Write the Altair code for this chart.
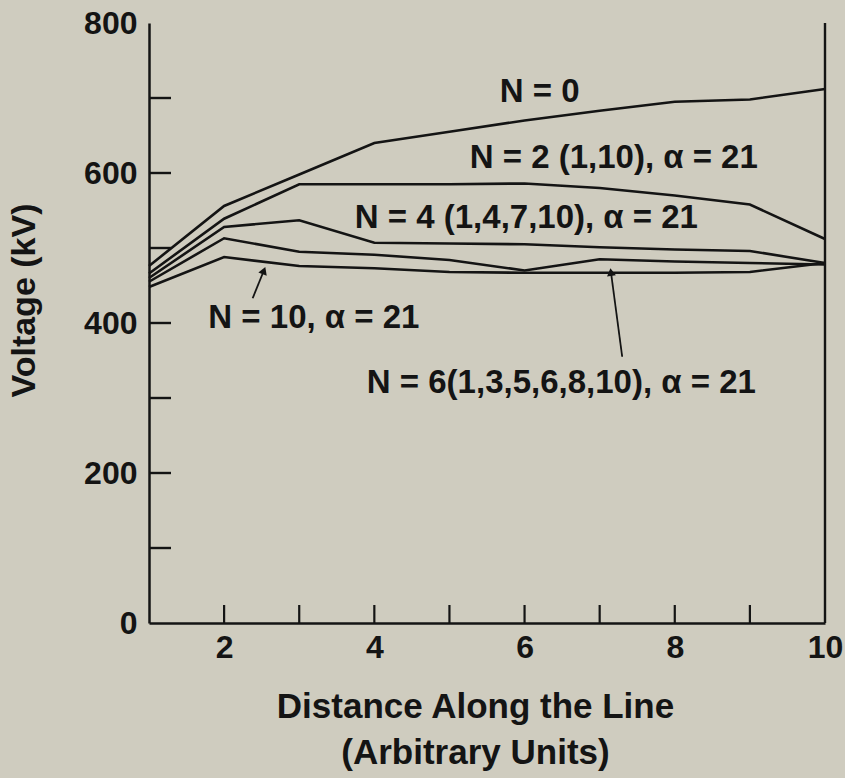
import altair as alt
import pandas as pd

# Voltage profile along the line for different numbers of arresters N
distance = [1, 2, 3, 4, 5, 6, 7, 8, 9, 10]
v_n0 = [476, 556, 598, 640, 655, 670, 683, 695, 698, 712]
v_n2 = [466, 539, 585, 585, 585, 586, 580, 570, 558, 512]
v_n4 = [460, 528, 537, 507, 506, 505, 501, 498, 496, 480]
v_n6 = [455, 513, 495, 491, 484, 470, 485, 482, 480, 478]
v_n10 = [448, 488, 476, 473, 468, 467, 467, 467, 468, 480]

series_names = ["N0", "N2", "N4", "N6", "N10"]
series_values = [v_n0, v_n2, v_n4, v_n6, v_n10]

# curve labels: text, x, y
label_texts = [
    "N = 0",
    "N = 2 (1,10), α = 21",
    "N = 4 (1,4,7,10), α = 21",
    "N = 10, α = 21",
    "N = 6(1,3,5,6,8,10), α = 21",
]
label_x = [5.67, 5.27, 3.74, 1.79, 3.90]
label_y = [695, 607, 527, 393, 307]

# pointer arrows: tail (x, y) -> head (x, y), head angle in degrees
arrow_tail_x = [2.38, 7.30]
arrow_tail_y = [433, 355]
arrow_head_x = [2.53, 7.15]
arrow_head_y = [470, 468]
arrow_angle = [21, 352]

y_ticks = [100, 200, 300, 400, 500, 600, 700]
x_ticks = [2, 3, 4, 5, 6, 7, 8, 9]
y_labels = [0, 200, 400, 600, 800]
x_labels = [2, 4, 6, 8, 10]

FONT = "Liberation Sans"
INK = "#141414"
BG = "#cfccbf"

rows = []
for name, vals in zip(series_names, series_values):
    for d, v in zip(distance, vals):
        rows.append({"series": name, "distance": d, "voltage": v})
lines_df = pd.DataFrame(rows)

x_scale = alt.Scale(domain=[1, 10], nice=False, zero=False)
y_scale = alt.Scale(domain=[0, 800], nice=False)

lines = alt.Chart(lines_df).mark_line(color=INK, strokeWidth=2.6).encode(
    x=alt.X(
        "distance:Q",
        scale=x_scale,
        axis=alt.Axis(
            values=x_labels,
            format="d",
            ticks=False,
            grid=False,
            domainColor=INK,
            domainWidth=2.5,
            labelFont=FONT,
            labelFontWeight="bold",
            labelFontSize=32,
            labelColor=INK,
            labelPadding=9,
            labelFlush=False,
            title=["Distance Along the Line", "(Arbitrary Units)"],
            titleFont=FONT,
            titleFontWeight="bold",
            titleFontSize=35,
            titleColor=INK,
            titleLineHeight=46,
            titlePadding=26,
            titleX=326,
        ),
    ),
    y=alt.Y(
        "voltage:Q",
        scale=y_scale,
        axis=alt.Axis(
            values=y_labels,
            format="d",
            ticks=False,
            grid=False,
            domainColor=INK,
            domainWidth=2.5,
            labelFont=FONT,
            labelFontWeight="bold",
            labelFontSize=32,
            labelColor=INK,
            labelPadding=12,
            labelFlush=False,
            title="Voltage (kV)",
            titleFont=FONT,
            titleFontWeight="bold",
            titleFontSize=34,
            titleColor=INK,
            titleX=-108,
            titleY=277,
        ),
    ),
    detail="series:N",
)

y_tick_marks = alt.Chart(pd.DataFrame({"v": y_ticks})).mark_rule(
    color=INK, strokeWidth=2.4
).encode(y=alt.Y("v:Q", scale=y_scale), x=alt.value(0), x2=alt.value(22))

x_tick_marks = alt.Chart(pd.DataFrame({"d": x_ticks})).mark_rule(
    color=INK, strokeWidth=2.2
).encode(x=alt.X("d:Q", scale=x_scale), y=alt.value(600), y2=alt.value(582))

right_border = alt.Chart(pd.DataFrame({"d": [10], "lo": [0], "hi": [800]})).mark_rule(
    color=INK, strokeWidth=2.4
).encode(
    x=alt.X("d:Q", scale=x_scale),
    y=alt.Y("lo:Q", scale=y_scale),
    y2="hi:Q",
)

labels = alt.Chart(
    pd.DataFrame({"t": label_texts, "x": label_x, "y": label_y})
).mark_text(
    align="left", baseline="alphabetic", font=FONT, fontWeight="bold",
    fontSize=33, color=INK,
).encode(x=alt.X("x:Q", scale=x_scale), y=alt.Y("y:Q", scale=y_scale), text="t:N")

arrow_df = pd.DataFrame({
    "x": arrow_tail_x, "y": arrow_tail_y,
    "x2": arrow_head_x, "y2": arrow_head_y, "a": arrow_angle,
})
arrow_shafts = alt.Chart(arrow_df).mark_rule(color=INK, strokeWidth=1.8).encode(
    x=alt.X("x:Q", scale=x_scale), y=alt.Y("y:Q", scale=y_scale),
    x2="x2:Q", y2="y2:Q",
)
arrow_heads = alt.Chart(arrow_df).mark_point(
    shape="triangle-up", filled=True, color=INK, size=80, opacity=1
).encode(
    x=alt.X("x2:Q", scale=x_scale), y=alt.Y("y2:Q", scale=y_scale),
    angle=alt.Angle("a:Q", scale=None),
)

chart = alt.layer(
    lines, y_tick_marks, x_tick_marks, right_border, labels, arrow_shafts, arrow_heads
).properties(
    width=676,
    height=600,
    autosize=alt.AutoSizeParams(type="none"),
    padding={"left": 149, "top": 23, "right": 20, "bottom": 155},
    background=BG,
).configure_view(stroke=None)

chart.save("out.html", embed_options={"renderer": "svg", "actions": False})
